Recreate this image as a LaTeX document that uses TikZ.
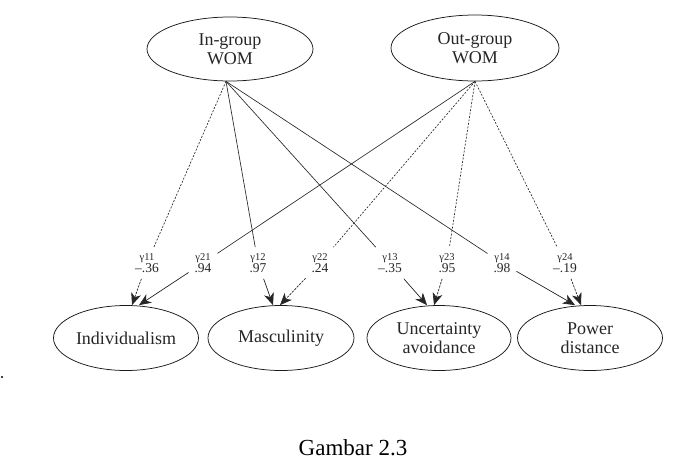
\documentclass[tikz,border=0pt]{standalone}
\usepackage{fontspec}
\setmainfont{Liberation Serif}
\usetikzlibrary{shapes.geometric,arrows.meta,calc}
\newcommand\cfl[2]{{\fontsize{10.5}{10.5}\selectfont γ#1}\\#2}
\begin{document}
\begin{tikzpicture}[x=1pt,y=-1pt,
  lat/.style={ellipse,draw=black!90,line width=0.75pt,inner sep=0pt,align=center,
    font=\fontsize{18}{17.5}\selectfont,text=black!85},
  coef/.style={inner sep=1pt,outer sep=5pt,align=center,text=black!85,
    font=\fontsize{13.5}{12.5}\selectfont},
  sol/.style={line width=0.65pt,draw=black!85},
  dsh/.style={line width=0.65pt,draw=black!85,dash pattern=on 2pt off 1.5pt},
  tip/.style={-{Stealth[length=12pt,width=10pt,inset=3.5pt]},fill=black!90}
]
\useasboundingbox (0,0) rectangle (689,464);

% latent ellipses
\node[lat,minimum width=166,minimum height=64] (ing) at (230,49) {In-group\\[2pt]WOM};
\node[lat,minimum width=168,minimum height=66] (outg) at (475,48) {Out-group\\[2pt]WOM};
\node[lat,minimum width=145,minimum height=65] (ind) at (126,338) {Individualism};
\node[lat,minimum width=146,minimum height=65] (mas) at (281,338) {Masculinity};
\node[lat,minimum width=144,minimum height=65] (unc) at (439,338) {Uncertainty\\[1pt]avoidance};
\node[lat,minimum width=145,minimum height=65] (pow) at (590,338) {Power\\[1pt]distance};

% coefficient labels
\node[coef] (c11) at (147,263) {\cfl{11}{--.36}};
\node[coef] (c21) at (203,263) {\cfl{21}{.94}};
\node[coef] (c12) at (258,263) {\cfl{12}{.97}};
\node[coef] (c22) at (320,263) {\cfl{22}{.24}};
\node[coef] (c13) at (390,263) {\cfl{13}{--.35}};
\node[coef] (c23) at (447,263) {\cfl{23}{.95}};
\node[coef] (c14) at (502,263) {\cfl{14}{.98}};
\node[coef] (c24) at (565,263) {\cfl{24}{--.19}};

% sources and arrow tips
\coordinate (si) at ($(ing.south)+(-4,0)$);
\coordinate (so) at ($(outg.south)+(0,0)$);
\coordinate (t11) at ($(ind.north)+(6,0)$);
\coordinate (t21) at ($(ind.north)+(13,0)$);
\coordinate (t12) at ($(mas.north)+(-8,0)$);
\coordinate (t22) at ($(mas.north)+(-1,0)$);
\coordinate (t13) at ($(unc.north)+(-12,0)$);
\coordinate (t23) at ($(unc.north)+(-5,0)$);
\coordinate (t14) at ($(pow.north)+(-15,0)$);
\coordinate (t24) at ($(pow.north)+(-9,0)$);

% In-group paths
\draw[dsh] (si) -- (c11);  \draw[dsh,tip] (c11) -- (t11);
\draw[sol] (si) -- (c12);  \draw[sol,tip] (c12) -- (t12);
\draw[sol] (si) -- (c13);  \draw[sol,tip] (c13) -- (t13);
\draw[sol] (si) -- (c14);  \draw[sol,tip] (c14) -- (t14);
% Out-group paths
\draw[sol] (so) -- (c21);  \draw[sol,tip] (c21) -- (t21);
\draw[dsh] (so) -- (c22);  \draw[dsh,tip] (c22) -- (t22);
\draw[dsh] (so) -- (c23);  \draw[dsh,tip] (c23) -- (t23);
\draw[dsh] (so) -- (c24);  \draw[dsh,tip] (c24) -- (t24);

% stray dot and caption
\fill[black] (2,377) circle (1.2);
\node[anchor=base,inner sep=0pt,font=\fontsize{23}{23}\selectfont] (cap) at (353,455) {Gambar 2.3};
\end{tikzpicture}
\end{document}
